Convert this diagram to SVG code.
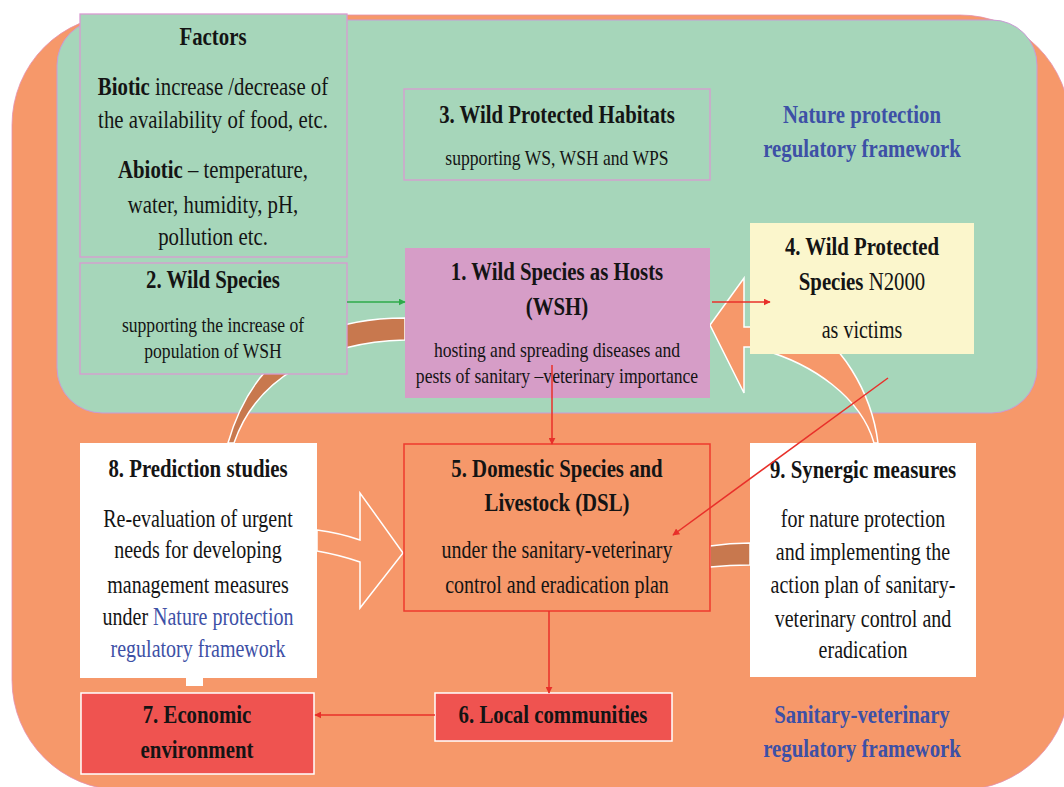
<svg xmlns="http://www.w3.org/2000/svg" width="1064" height="787" viewBox="0 0 1064 787">
<defs>
<style>
text{font-family:"Liberation Serif","Times New Roman",serif;fill:#141414;text-anchor:middle}
.t{font-size:26px;font-weight:bold}
.b{font-size:22px}
.bl{font-size:25px}
.bf{font-size:26px}
.blue{fill:#3D50A6}
.pink{fill:#A6D6BA;stroke:#D99AD2;stroke-width:1.3}
.red{fill:none;stroke:#E8302A;stroke-width:1.5}
.white{fill:#fff}
.rbox{fill:#EF5350;stroke:#fff;stroke-width:1.5}
.brown{fill:#C8784E;stroke:#fff;stroke-width:1.5}
.orng{fill:#F6986A;stroke:#fff;stroke-width:1.5}
</style>
<marker id="ar" viewBox="0 0 10 10" refX="9" refY="5" markerWidth="7" markerHeight="7" markerUnits="userSpaceOnUse" orient="auto"><path d="M0,0 L10,5 L0,10 z" fill="#E8302A"/></marker>
<marker id="ag" viewBox="0 0 10 10" refX="9" refY="5" markerWidth="7" markerHeight="7" markerUnits="userSpaceOnUse" orient="auto"><path d="M0,0 L10,5 L0,10 z" fill="#2EAA4A"/></marker>
</defs>
<rect width="1064" height="787" fill="#fff"/>
<rect x="12" y="15" width="1058" height="775" rx="110" fill="#F6986A" stroke="#E58FB0" stroke-width="0.8"/>
<rect x="57" y="20" width="980" height="393" rx="45" fill="#A6D6BA" stroke="#C99AD6" stroke-width="1"/>

<g id="block-arrows">
<path class="brown" d="M405 318 C330 318 256 345 228 443 L234 443 C256 378 322 342 405 340 Z"/>
<path class="orng" d="M710 325 L744 278 L744 327 L800 327 C840 335 872 395 878 443 L874 443 C862 400 815 362 752 347 L744 347 L744 393 Z"/>
<path class="brown" d="M710 546 Q730 543 750 543 L750 565 Q730 565 710 567 Z"/>
<path class="orng" d="M317 530 Q340 533 360 540 L360 493 L403 553 L360 608 L360 562 Q340 555 317 551 Z"/>
</g>

<g id="n-factors">
<rect class="pink" x="80" y="14" width="267" height="243"/>
<g transform="translate(213 0) scale(0.8 1)">
<text class="t" y="45">Factors</text>
<text class="bf" y="95"><tspan font-weight="bold">Biotic</tspan> increase  /decrease of</text>
<text class="bf" y="128">the availability  of food, etc.</text>
<text class="bf" y="178"><tspan font-weight="bold">Abiotic</tspan>  – temperature,</text>
<text class="bf" y="213">water, humidity,  pH,</text>
<text class="bf" y="245">pollution  etc.</text>
</g>
</g>

<g id="n2">
<rect class="pink" x="80" y="263" width="267" height="111"/>
<g transform="translate(213 0) scale(0.8 1)">
<text class="t" y="288">2. Wild  Species</text>
<text class="b" y="332">supporting the increase of</text>
<text class="b" y="358">population of WSH</text>
</g>
</g>

<g id="n3">
<rect class="pink" x="404" y="89" width="306" height="91"/>
<g transform="translate(557 0) scale(0.8 1)">
<text class="t" y="123">3. Wild  Protected  Habitats</text>
<text class="b" y="165">supporting WS,  WSH and WPS</text>
</g>
</g>

<g id="n1">
<rect x="405" y="248" width="305" height="150" fill="#D69DC7"/>
<g transform="translate(557 0) scale(0.8 1)">
<text class="t" y="280">1. Wild  Species as Hosts</text>
<text class="t" y="315">(WSH)</text>
<text class="b" y="357">hosting and spreading diseases and</text>
<text class="b" y="383">pests of sanitary –veterinary importance</text>
</g>
</g>

<g id="n4">
<rect x="750" y="223" width="224" height="131" fill="#FBF6CC"/>
<g transform="translate(862 0) scale(0.8 1)">
<text class="t" y="255">4. Wild  Protected</text>
<text class="t" y="290">Species <tspan font-weight="normal">N2000</tspan></text>
<text class="bl" y="338">as victims</text>
</g>
</g>

<g id="label-nature">
<g transform="translate(862 0) scale(0.8 1)">
<text class="t blue" y="123">Nature protection</text>
<text class="t blue" y="157">regulatory  framework</text>
</g>
</g>

<g id="n5">
<rect x="404" y="444" width="306" height="167" fill="#F6986A" stroke="#EE3A2E" stroke-width="1.5"/>
<g transform="translate(557 0) scale(0.8 1)">
<text class="t" y="477">5. Domestic  Species and</text>
<text class="t" y="511">Livestock (DSL)</text>
<text class="bl" y="558">under  the  sanitary-veterinary</text>
<text class="bl" y="593">control  and  eradication  plan</text>
</g>
</g>

<g id="n6">
<rect class="rbox" x="435" y="693" width="237" height="48"/>
<g transform="translate(553 0) scale(0.8 1)">
<text class="t" y="723">6. Local communities</text>
</g>
</g>

<g id="n7">
<rect class="rbox" x="81" y="693" width="233" height="81"/>
<g transform="translate(197 0) scale(0.8 1)">
<text class="t" y="723">7. Economic</text>
<text class="t" y="758">environment</text>
</g>
</g>

<g id="n8">
<rect class="white" x="80" y="443" width="237" height="235"/>
<rect class="white" x="186" y="676" width="17" height="10"/>
<g transform="translate(198 0) scale(0.8 1)">
<text class="t" y="477">8. Prediction  studies</text>
<text class="bl" y="527">Re-evaluation  of urgent</text>
<text class="bl" y="558">needs for  developing</text>
<text class="bl" y="593">management  measures</text>
<text class="bl" y="625">under <tspan class="blue">Nature protection</tspan></text>
<text class="bl blue" y="657">regulatory  framework</text>
</g>
</g>

<g id="n9">
<rect class="white" x="750" y="443" width="226" height="234"/>
<g transform="translate(863 0) scale(0.8 1)">
<text class="t" y="478">9. Synergic  measures</text>
<text class="bl" y="527">for  nature  protection</text>
<text class="bl" y="560">and implementing  the</text>
<text class="bl" y="593">action  plan  of sanitary-</text>
<text class="bl" y="627">veterinary  control  and</text>
<text class="bl" y="658">eradication</text>
</g>
</g>

<g id="label-sanitary">
<g transform="translate(862 0) scale(0.8 1)">
<text class="t blue" y="723">Sanitary-veterinary</text>
<text class="t blue" y="757">regulatory  framework</text>
</g>
</g>

<g id="connectors">
<line x1="347" y1="302" x2="405" y2="302" stroke="#2EAA4A" stroke-width="1.5" marker-end="url(#ag)"/>
<line class="red" x1="712" y1="302" x2="770" y2="302" marker-end="url(#ar)"/>
<line class="red" x1="552" y1="365" x2="552" y2="444" marker-end="url(#ar)"/>
<line class="red" x1="549" y1="611" x2="549" y2="693" marker-end="url(#ar)"/>
<line class="red" x1="435" y1="715" x2="315" y2="715" marker-end="url(#ar)"/>
<line class="red" x1="888" y1="378" x2="673" y2="535" marker-end="url(#ar)"/>
</g>
</svg>
